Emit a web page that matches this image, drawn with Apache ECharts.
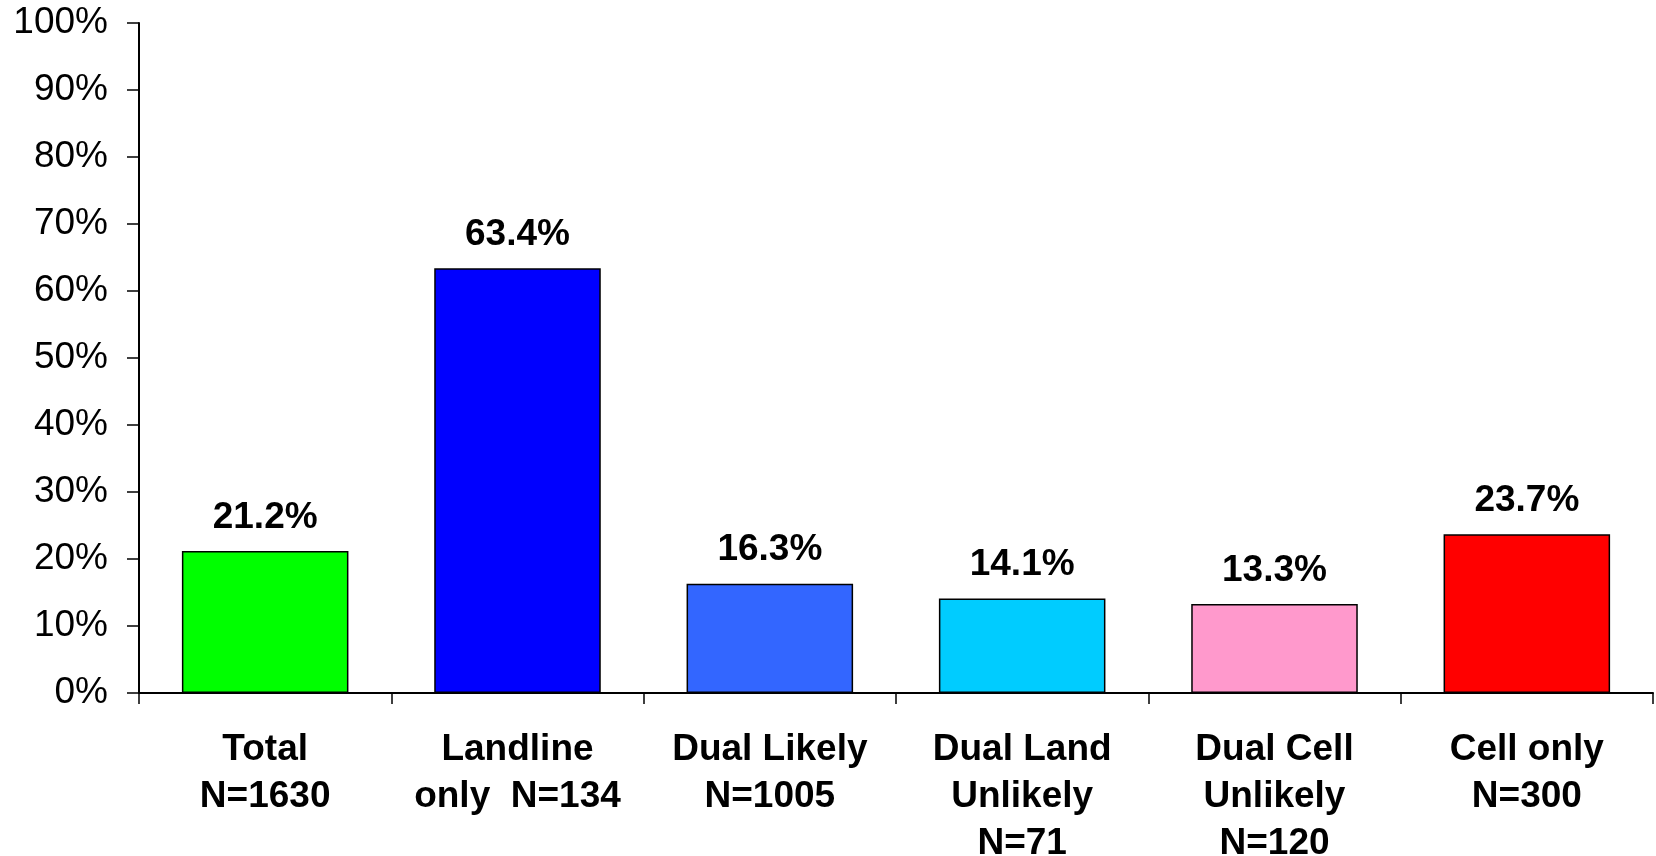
<!DOCTYPE html>
<html>
<head>
<meta charset="utf-8">
<script src="https://cdn.jsdelivr.net/npm/echarts@6/dist/echarts.min.js"></script>
<style>
html,body{margin:0;padding:0;background:#fff;}
#chart{width:1656px;height:856px;}
</style>
</head>
<body>
<div id="chart"></div>
<script>
const categories = ["Total\nN=1630", "Landline\nonly  N=134", "Dual Likely\nN=1005", "Dual Land\nUnlikely\nN=71", "Dual Cell\nUnlikely\nN=120", "Cell only\nN=300"];
const values = [21.2, 63.4, 16.3, 14.1, 13.3, 23.7];
const barColors = ["#00FF00", "#0000FF", "#3366FF", "#00CCFF", "#FF99CC", "#FF0000"];

const chart = echarts.init(document.getElementById('chart'));
chart.setOption({
  animation: false,
  backgroundColor: '#ffffff',
  grid: { left: 139, right: 3, top: 23, bottom: 163, containLabel: false, outerBoundsMode: 'none' },
  xAxis: {
    type: 'category',
    data: categories,
    axisLine: { lineStyle: { color: '#000', width: 2 } },
    axisTick: { show: true, length: 11, lineStyle: { color: '#000', width: 1.5 } },
    axisLabel: {
      color: '#000', fontFamily: 'Liberation Sans, Arial, sans-serif',
      fontWeight: 'bold', fontSize: 37, lineHeight: 47, margin: 33, interval: 0
    }
  },
  yAxis: {
    type: 'value', min: 0, max: 100, interval: 10,
    axisLine: { show: true, lineStyle: { color: '#000', width: 2 } },
    axisTick: { show: true, length: 12, lineStyle: { color: '#000', width: 1.5 } },
    splitLine: { show: false },
    axisLabel: {
      color: '#000', fontFamily: 'Liberation Sans, Arial, sans-serif',
      fontSize: 37, margin: 31, formatter: '{value}%'
    }
  },
  series: [{
    type: 'bar',
    barWidth: '66%',
    data: values.map((v, i) => ({ value: v, itemStyle: { color: barColors[i] } })),
    itemStyle: { borderColor: '#000', borderWidth: 1.5 },
    label: {
      show: true, position: 'top', distance: 15, color: '#000',
      fontFamily: 'Liberation Sans, Arial, sans-serif', fontWeight: 'bold', fontSize: 37,
      formatter: p => p.value.toFixed(1) + '%'
    }
  }]
});
</script>
</body>
</html>
